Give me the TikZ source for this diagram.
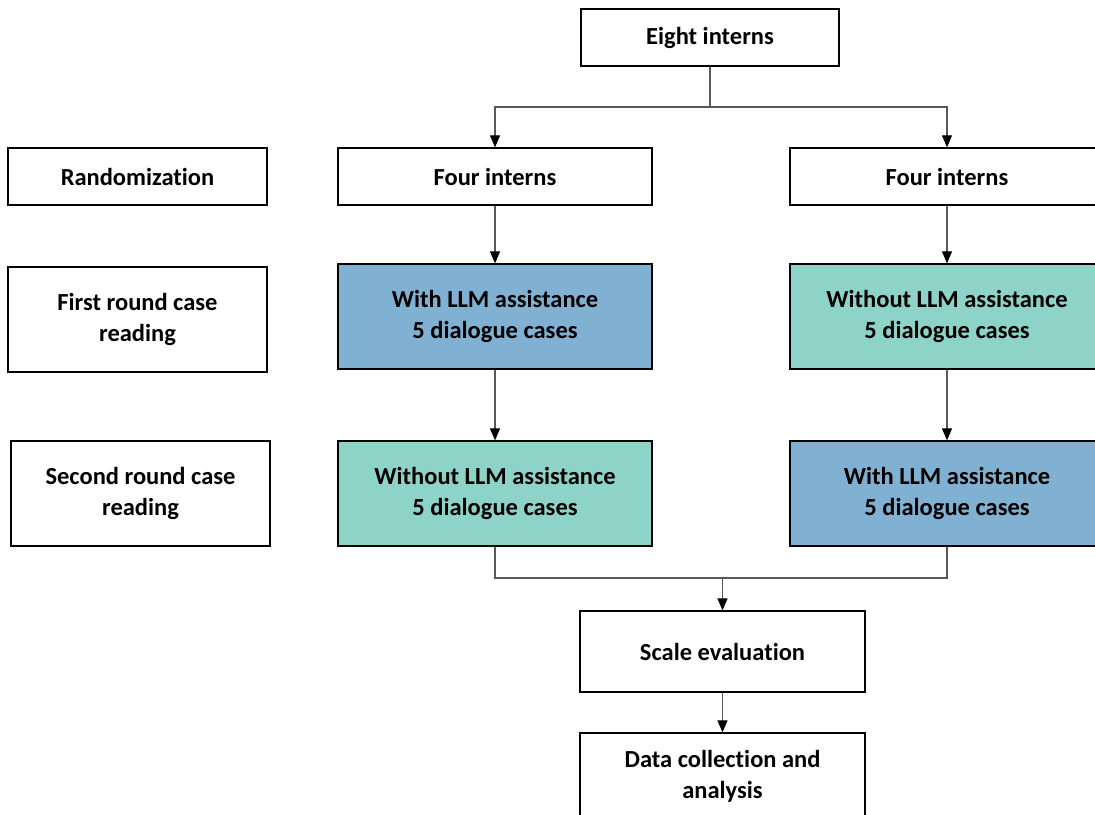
\documentclass[tikz,border=0pt]{standalone}
\usepackage{fontspec}
\setmainfont{Carlito}[Ligatures=NoCommon]
\usetikzlibrary{arrows.meta}
\definecolor{withc}{HTML}{80B1D3}
\definecolor{withoutc}{HTML}{8DD3C7}
\definecolor{linkc}{HTML}{595959}
\begin{document}
\begin{tikzpicture}[x=1pt,y=-1pt,
  box/.style={draw=black, line width=1.3pt, inner sep=0pt, align=center,
    font=\fontsize{24.5}{31}\selectfont\bfseries},
  wide/.style={box, minimum width=314pt},
  side/.style={box, minimum width=259pt},
  link/.style={draw=linkc, line width=1.1pt},
  arr/.style={link, -{Triangle[width=10pt,length=12pt,fill=black,color=black]}}]
\useasboundingbox (0,0) rectangle (1095,814);
\clip (0,0) rectangle (1095,814);
% top node and randomized groups
\node[box, minimum width=258pt, minimum height=57pt] (eight) at (710,37.5) {Eight interns};
\node[side, minimum height=57pt] (rand) at (137.5,176.5) {Randomization};
\node[wide, minimum height=57pt] (fourL) at (495,176.5) {Four interns};
\node[wide, minimum height=57pt] (fourR) at (947,176.5) {Four interns};
% first round
\node[side, minimum height=105pt] (first) at (137.5,319.5) {First round case\\reading};
\node[wide, minimum height=105pt, fill=withc] (r1L) at (495,316.5) {With LLM assistance\\5 dialogue cases};
\node[wide, minimum height=105pt, fill=withoutc] (r1R) at (947,316.5) {Without LLM assistance\\5 dialogue cases};
% second round
\node[side, minimum height=105pt] (second) at (140.5,493.5) {Second round case\\reading};
\node[wide, minimum height=105pt, fill=withoutc] (r2L) at (495,493.5) {Without LLM assistance\\5 dialogue cases};
\node[wide, minimum height=105pt, fill=withc] (r2R) at (947,493.5) {With LLM assistance\\5 dialogue cases};
% evaluation
\node[box, minimum width=285pt, minimum height=81pt] (scale) at (722.5,651.5) {Scale evaluation};
\node[box, minimum width=285pt, minimum height=86pt] (data) at (722.5,776) {Data collection and\\analysis};
% connectors
\coordinate (split) at (710,107);
\coordinate (merge) at (722.5,578);
\draw[link] (eight.south) -- (split);
\draw[arr] (split) -| (fourL.north);
\draw[arr] (split) -| (fourR.north);
\draw[arr] (fourL) -- (r1L);
\draw[arr] (fourR) -- (r1R);
\draw[arr] (r1L) -- (r2L);
\draw[arr] (r1R) -- (r2R);
\draw[link] (r2L.south) |- (merge);
\draw[link] (r2R.south) |- (merge);
\draw[arr] (merge) -- (scale.north);
\draw[arr] (scale) -- (data);
\end{tikzpicture}
\end{document}
